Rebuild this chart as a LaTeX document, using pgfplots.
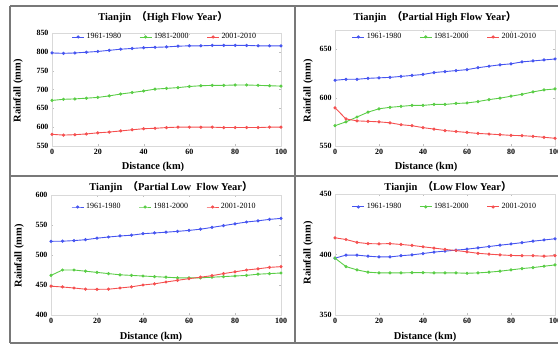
\documentclass[border=0pt]{standalone}
\usepackage{pgfplots}
\pgfplotsset{compat=1.18}
\usepackage{pgfplotstable}
\usepackage{fontspec}
\setmainfont{Liberation Serif}
\newfontfamily\cjk{Noto Sans CJK SC}
\definecolor{cblue}{RGB}{70,85,240}
\definecolor{cgreen}{RGB}{90,205,70}
\definecolor{cred}{RGB}{245,80,80}
\definecolor{frame}{RGB}{120,120,120}

\pgfplotstableread{
x b g r
0 797 671 581
5 796 674 579
10 797 675 580
15 799 677 582
20 801 679 585
25 804 683 587
30 807 688 590
35 809 692 593
40 811 696 596
45 812 701 597
50 813 703 599
55 815 705 600
60 816 708 600
65 816 710 600
70 817 711 600
75 817 711 599
80 817 712 599
85 817 712 599
90 816 711 599
95 816 710 600
100 816 709 600
}\tabA
\pgfplotstableread{
x b g r
0 618 571 589.5
5 619 575 578
10 619 580 576
15 620 585 575.5
20 620.5 588.5 575
25 621 590 574
30 622 591 572
35 623 592 571
40 624 592 569
45 626 593 567.5
50 627 593 566
55 628 594 565
60 629 594.5 564
65 631 596 563
70 632.5 598 562.4
75 634 599.5 561.7
80 635 601.5 561
85 637 603.5 560.7
90 638 606 560
95 639 608 559
100 640 609 558
}\tabB
\pgfplotstableread{
x b g r
0 522.8 466 448
5 523 475 446.7
10 524 475 445
15 525.5 473 443
20 528 471 442.8
25 530 469 443
30 531.7 467 445
35 533 466 447
40 535.5 465 450
45 536.7 464 452
50 538 463 455
55 539.4 462 457.8
60 541 462 460.6
65 543 462 463
70 546 463 465.6
75 549 464 469
80 552 465 472
85 555 466 475
90 557 468 477
95 559.4 469 479.4
100 561 470 480.6
}\tabC
\pgfplotstableread{
x b g r
0 397 397 413.8
5 399.5 390 412.4
10 399.5 387.3 410
15 398.6 385.4 409
20 398 384.8 408.8
25 398 384.8 409
30 399 384.8 408.3
35 399.7 385 407.5
40 400.8 385 406.4
45 402 384.8 405.3
50 402.8 384.8 404.2
55 403.6 384.8 403.3
60 404.4 384.5 402.2
65 405.5 384.8 401
70 406.6 385.4 400.3
75 407.7 386.2 399.7
80 408.7 387.3 399.2
85 409.8 388.4 399
90 411 389.2 399
95 412 390.3 398.6
100 413 391.4 399
}\tabD

\pgfplotsset{
  panel/.style={
    scale only axis,
    xmin=0, xmax=100,
    xtick={0,20,...,100},
    axis line style={gray!30},
    tick style={gray!50, major tick length=2bp},
    tick align=inside,
    ticklabel style={font=\fontsize{8}{8}\selectfont\bfseries},
    /pgf/number format/assume math mode=true,
    legend columns=3,
    legend cell align=left,
    legend style={draw=none, fill=none, anchor=center,
      font=\fontsize{8}{8}\selectfont,
      /tikz/every even column/.append style={column sep=16bp}},
    legend image code/.code={\draw[mark repeat=2,mark phase=2] plot coordinates {(0bp,0bp)(6bp,0bp)(12bp,0bp)};},
    every axis plot/.append style={line width=0.9bp, mark=*, mark size=1.1bp},
  },
  sb/.style={color=cblue, mark options={fill=cblue, draw=cblue}},
  sg/.style={color=cgreen, mark options={fill=cgreen, draw=cgreen}},
  sr/.style={color=cred, mark options={fill=cred, draw=cred}},
}

\newcommand{\ttl}[1]{\fontsize{10.5}{10.5}\selectfont\bfseries Tianjin\ \ {\cjk （}#1{\cjk ）}}
\newcommand{\lab}{\fontsize{10.5}{10.5}\selectfont\bfseries}

\begin{document}
\begin{tikzpicture}[x=1bp,y=1bp]
\useasboundingbox (0,0) rectangle (558,347);
% frames
\draw[frame, line width=1.3bp] (10,341) -- (560,341);
\draw[frame, line width=1.3bp] (10,4) -- (560,4);
\draw[frame, line width=1.3bp] (10,341) -- (10,4);
\draw[frame, line width=1.3bp] (295,341) -- (295,4);
\draw[frame, line width=1.3bp] (10,171) -- (560,171);

% Panel 1
\begin{axis}[panel, at={(52bp,201bp)}, anchor=south west, width=229bp, height=113bp,
  ymin=550, ymax=850, ytick={550,600,...,850},
  legend style={at={(axis description cs:0.493,0.965)}}]
\addplot[sb] table[x=x,y=b]{\tabA};
\addplot[sg] table[x=x,y=g]{\tabA};
\addplot[sr] table[x=x,y=r]{\tabA};
\legend{1961-1980,1981-2000,2001-2010}
\end{axis}
\node at (163,330) {\ttl{High Flow Year}};
\node[rotate=90] at (18,256) {\lab Rainfall (mm)};
\node at (153,180) {\lab Distance (km)};

% Panel 2
\begin{axis}[panel, at={(335bp,201bp)}, anchor=south west, width=220bp, height=116bp,
  ymin=550, ymax=670, ytick={550,600,650},
  legend style={at={(axis description cs:0.5,0.94)}}]
\addplot[sb] table[x=x,y=b]{\tabB};
\addplot[sg] table[x=x,y=g]{\tabB};
\addplot[sr] table[x=x,y=r]{\tabB};
\legend{1961-1980,1981-2000,2001-2010}
\end{axis}
\node at (435,330) {\ttl{Partial High Flow Year}};
\node[rotate=90] at (308,256) {\lab Rainfall (mm)};
\node at (426,180) {\lab Distance (km)};

% Panel 3
\begin{axis}[panel, at={(51bp,32bp)}, anchor=south west, width=230bp, height=120bp,
  ymin=400, ymax=600, ytick={400,450,...,600},
  legend style={at={(axis description cs:0.493,0.9)}}]
\addplot[sb] table[x=x,y=b]{\tabC};
\addplot[sg] table[x=x,y=g]{\tabC};
\addplot[sr] table[x=x,y=r]{\tabC};
\legend{1961-1980,1981-2000,2001-2010}
\end{axis}
\node at (171,160) {\ttl{Partial Low\ \ Flow Year}};
\node[rotate=90] at (19,91) {\lab Rainfall (mm)};
\node at (151,10) {\lab Distance (km)};

% Panel 4
\begin{axis}[panel, at={(335bp,32bp)}, anchor=south west, width=220bp, height=121bp,
  ymin=350, ymax=450, ytick={350,400,450},
  legend style={at={(axis description cs:0.5,0.893)}}]
\addplot[sb] table[x=x,y=b]{\tabD};
\addplot[sg] table[x=x,y=g]{\tabD};
\addplot[sr] table[x=x,y=r]{\tabD};
\legend{1961-1980,1981-2000,2001-2010}
\end{axis}
\node at (448,160) {\ttl{Low Flow Year}};
\node[rotate=90] at (308,94) {\lab Rainfall (mm)};
\node at (425,10) {\lab Distance (km)};
\end{tikzpicture}
\end{document}
